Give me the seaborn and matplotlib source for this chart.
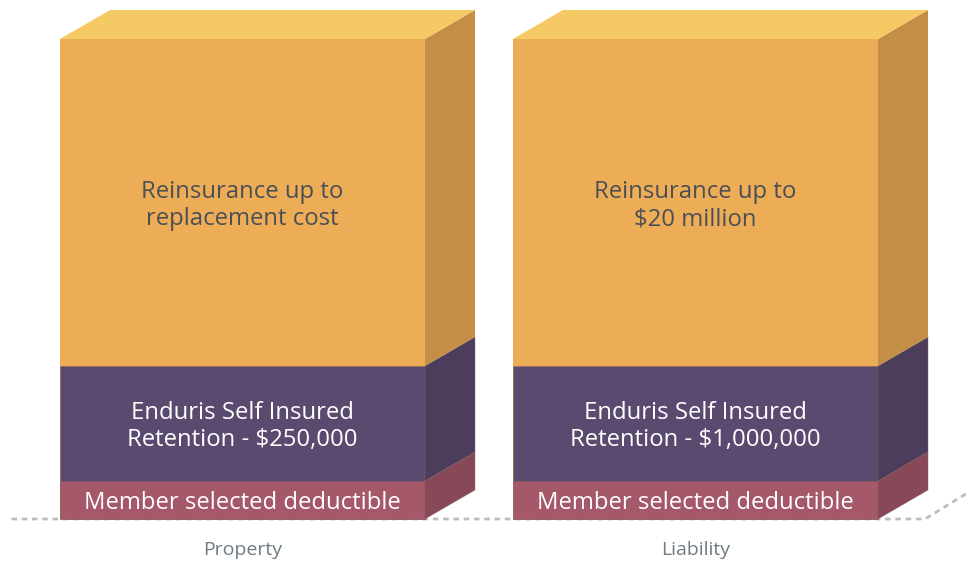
import matplotlib
matplotlib.use("Agg")
import matplotlib.pyplot as plt
from matplotlib.patches import Polygon
import numpy as np
import seaborn as sns

sns.set_theme(style="white")
plt.rcParams["font.family"] = ["Open Sans", "DejaVu Sans"]

# data (heights in arbitrary stack units, bottom to top)
categories = ["Property", "Liability"]
segments = ["deductible", "retention", "reinsurance"]
deductible = [38, 38]
retention = [115, 115]
reinsurance = [327, 327]
labels = {
    "deductible": ["Member selected deductible", "Member selected deductible"],
    "retention": ["Enduris Self Insured\nRetention - $250,000",
                  "Enduris Self Insured\nRetention - $1,000,000"],
    "reinsurance": ["Reinsurance up to\nreplacement cost",
                    "Reinsurance up to\n$20 million"],
}

FRONT = {"deductible": "#A55869", "retention": "#5B4A70", "reinsurance": "#EDAD57"}
SIDE = {"deductible": "#874858", "retention": "#4B3D5B", "reinsurance": "#C48E46"}
TOP = "#F5CA65"
TEXT = {"deductible": "white", "retention": "white", "reinsurance": "#4A4F55"}
EDGE = (0.55, 0.38, 0.36, 0.6)

BAR_W = 365 / 453
DX = 50 / 453
DY = 29

values = np.array([deductible, retention, reinsurance], dtype=float)
tops = values.cumsum(axis=0)
bottoms = tops - values

fig = plt.figure(figsize=(9.66, 5.63), dpi=100)
ax = fig.add_axes([0, 0, 1, 1])

# stacked front faces: draw tallest first, smaller on top
for j in reversed(range(len(segments))):
    sns.barplot(x=categories, y=tops[j], color=FRONT[segments[j]], width=BAR_W,
                saturation=1, ax=ax, edgecolor=EDGE if j < 2 else "none", linewidth=0.5)

# depth: side faces and top face
for i in range(len(categories)):
    left, right = i - BAR_W / 2, i + BAR_W / 2
    for j, seg in enumerate(segments):
        b, t = bottoms[j, i], tops[j, i]
        ax.add_patch(Polygon([(right, b), (right + DX, b + DY), (right + DX, t + DY), (right, t)],
                             closed=True, facecolor=SIDE[seg],
                             edgecolor=EDGE if j < 2 else "none", linewidth=0.5))
        ax.text(i, (b + t) / 2 - 3, labels[seg][i], ha="center", va="center",
                fontsize=17.2, color=TEXT[seg], linespacing=1.22)
    t = tops[-1, i]
    ax.add_patch(Polygon([(left, t), (left + DX, t + DY), (right + DX, t + DY), (right, t)],
                         closed=True, facecolor=TOP, edgecolor="none"))
    ax.text(i, -31, categories[i], ha="center", va="center", fontsize=14, color="#6F7B82")

# dashed floor line
x0 = -0.51
xc = len(categories) - 1 + BAR_W / 2 + DX * 0.94
ax.plot([x0, xc, xc + DX * 0.85], [0, 0, DY * 0.9], color="#BDBDBD", lw=2,
        dashes=(2.0, 1.7), zorder=0.5, solid_capstyle="butt")

ax.set_xlim(-242.5 / 453, (966 - 242.5) / 453)
ax.set_ylim(-44, 519)
ax.axis("off")

fig.savefig("out.png", dpi=100)
